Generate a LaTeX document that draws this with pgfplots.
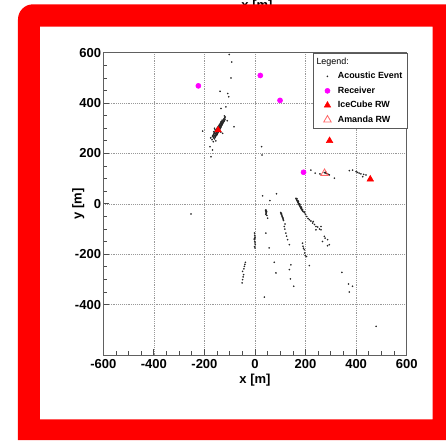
\documentclass[border=0pt]{standalone}
\usepackage{pgfplots}
\pgfplotsset{compat=1.18}
\usepackage{fontspec}
\setmainfont{Liberation Sans}
\definecolor{rootred}{RGB}{255,0,0}
\definecolor{rootmag}{RGB}{255,0,255}
\begin{document}
\begin{tikzpicture}
\begin{scope}[x=0.75pt,y=0.75pt,shift={(-77.475pt,-63.75pt)}]
\fill[white] (0,0) rectangle (446,440);
\node[anchor=north, inner sep=0pt, font=\fontsize{9.75}{11}\selectfont\bfseries] at (257,440) {x [m]};
\end{scope}
\begin{axis}[
  at={(0pt,0pt)}, anchor=south west,
  scale only axis, width=227.55pt, height=226.7pt,
  xmin=-600, xmax=600, ymin=-600, ymax=600,
  xtick={-600,-400,-200,0,200,400,600},
  ytick={-400,-200,0,200,400,600},
  minor tick num=3,
  xtick pos=bottom, ytick pos=left, tick align=inside,
  major tick length=4.5pt, minor tick length=3pt,
  grid=major,
  major grid style={densely dotted, gray!80, line width=0.4pt},
  axis line style={gray!75!black, line width=0.7pt},
  tick style={gray!60!black, line width=0.6pt},
  ticklabel style={font=\fontsize{9.75}{11}\selectfont\bfseries},
  yticklabel style={xshift=1.8pt},
  /pgf/number format/assume math mode=true,
  xlabel={x [m]}, ylabel={y [m]},
  xlabel style={at={(axis description cs:0.5,-0.0827)}, anchor=center, font=\fontsize{9.75}{11}\selectfont\bfseries},
  ylabel style={at={(axis description cs:-0.0824,0.5)}, anchor=center, font=\fontsize{9.75}{11}\selectfont\bfseries},
  legend style={at={(1.002,1)}, anchor=north east, draw=gray!70!black, fill=white,
    font=\fontsize{6.7}{7}\selectfont\bfseries, inner xsep=2pt, inner ysep=2pt,
    row sep=1.5pt, nodes={inner sep=1.5pt},
    /tikz/every odd column/.append style={column sep=3.5pt}},
  legend cell align=left,
]
\addlegendimage{empty legend}
\addlegendentry{\hspace{-16pt}\mdseries Legend:}
\addplot[only marks, mark=*, mark size=0.38pt, black!85] table {
x y
-165 262
-160 258
-168 268
-163 266
-158 264
-167 271
-160 270
-156 268
-164 274
-152 272
-158 274
-154 272
-162 279
-150 276
-156 279
-152 277
-160 283
-148 280
-163 286
-153 283
-149 281
-157 287
-145 285
-151 287
-147 286
-155 291
-143 289
-158 294
-149 291
-145 290
-152 295
-141 293
-146 295
-142 294
-150 299
-138 298
-144 299
-140 298
-148 303
-136 302
-141 304
-137 302
-145 307
-134 306
-139 308
-135 306
-142 311
-137 312
-133 311
-140 315
-130 314
-134 316
-130 315
-137 319
-132 320
-128 319
-135 324
-130 324
-126 323
-133 327
-127 328
-123 327
-130 332
-125 333
-121 331
-123 337
-119 336
-120 341
-118 345
-121 349
-170 255
-175 262
-128 280
-160 300
-110 330
-135 285
-155 250
-134.5 379
-115 385
-138 447
-104 425
-108 438
-95 500
-92 563
-102 593
-83 306
-207 289
-165 247
-168 214
-174 187
28 194
26 227
-178 227
221 134
238 122
257 119
274 124
278 123
282 121
286 119
290 117
294 115
280 126
314 102
373 132
386 134
400 128
406 125
412 122
419 119
430 117
439 115
426 108
43 -24
44 -28
43 -32
45 -35
44 -38
43 -42
46 -30
42 -27
50 -57
47 -46
103 -37
104 -41
106 -44
107 -48
108 -51
110 -55
111 -59
112 -63
105 -39
109 -53
102 -34
113 -66
116 -90
118 -100
122 -116
125 -128
129 -142
136 -162
119 -80
162 22
164 18
166 14
168 10
170 6
172 2
174 -2
176 -6
178 -10
180 -14
182 -18
184 -21
186 -24
188 -27
190 -30
194 -32
166 20
172 8
178 -4
184 -16
170 12
176 0
182 -12
188 -22
196 -35
200 -42
205 -50
215 -63
221 -68
228 -76
235 -82
241 -90
248 -92
255 -100
261 -103
241 -103
261 -90
274 -129
287 -142
267 -149
294 -162
277 -136
287 -166
230 -70
210 -58
188 -156
190 -168
192 -176
195 -182
197 -195
199 -205
204 -209
-2 -116
-1 -125
0 -132
-3 -140
-1 -148
0 -155
1 -162
-2 -170
0 -175
-1 -137
-38 -232
-42 -248
-49 -268
-45 -281
-49 -301
-51 -314
-44 -258
-47 -290
-40 -240
85 40
30 32
59 13
43 -116
56 -175
76 -232
83 -274
142 -242
136 -261
140 -298
153 -327
37 -370
215 -245
344 -272
370 -318
386 -327
373 -350
479 -486
-253 -40
};
\addlegendentry{Acoustic Event}
\addplot[only marks, mark=*, mark size=1.9pt, draw=rootmag, fill=rootmag] table {
x y
-224 468.5
21 509.7
99 410.7
192 125.5
};
\addlegendentry{Receiver}
\addplot[only marks, mark=triangle*, mark size=2.8pt, draw=rootred, fill=rootred] table {
x y
-146 293
295 250.7
456 98
};
\addlegendentry{IceCube RW}
\addplot[only marks, mark=triangle, mark size=3.2pt, draw=rootred!60, line width=0.6pt] table {
x y
275 121.5
};
\addlegendentry{Amanda RW}
\end{axis}
\begin{scope}[x=0.75pt,y=0.75pt,shift={(-77.475pt,-63.75pt)}]
\fill[rootred, even odd rule] (18,0) -- (18,420.7) arc[start angle=180, end angle=90, radius=15] -- (446,435.7) -- (446,0) -- cycle (40,413.3) rectangle (432.7,20.7);
\end{scope}
\end{tikzpicture}
\end{document}
